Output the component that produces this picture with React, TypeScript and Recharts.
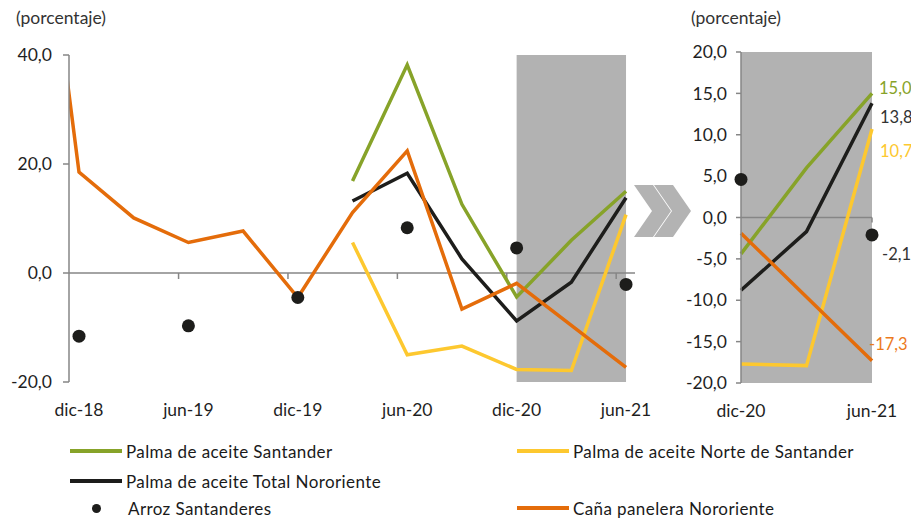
import React from 'react';
import { LineChart, Line, XAxis, YAxis, ReferenceArea, ReferenceLine } from 'recharts';

// ---------- data ----------
const quarters = ['sep-18', 'dic-18', 'mar-19', 'jun-19', 'sep-19', 'dic-19', 'mar-20', 'jun-20', 'sep-20', 'dic-20', 'mar-21', 'jun-21'];
const palmaSantander: (number | null)[] = [null, null, null, null, null, null, 16.9, 38.2, 12.6, -4.4, 6.0, 15.0];
const palmaNorte: (number | null)[] = [null, null, null, null, null, null, 5.6, -15.0, -13.4, -17.7, -17.9, 10.7];
const palmaTotal: (number | null)[] = [null, null, null, null, null, null, 13.2, 18.3, 2.6, -8.8, -1.7, 13.8];
const arrozSantanderes: (number | null)[] = [null, -11.6, null, -9.7, null, -4.5, null, 8.3, null, 4.6, null, -2.1];
const canaPanelera: (number | null)[] = [97, 18.5, 10.1, 5.6, 7.7, -4.5, 11.1, 22.4, -6.6, -1.9, -9.6, -17.3];

const leftTicksX = [0, 2, 4, 6, 8, 10];
const leftTicksY = [-20, 0, 20, 40];
const rightTicksX = [0, 2];
const rightTicksY = [-20, -15, -10, -5, 0, 5, 10, 15, 20];

const FONT = 'Lato, "Open Sans", sans-serif';
const AXIS = '#868686';
const TEXT = '#1f1f1f';
const FS = 17.5;

const series = [
  { key: 'santander', name: 'Palma de aceite Santander', color: '#87a329', values: palmaSantander, lab: { dx: 7, dy: 1, fill: '#87a329' } },
  { key: 'norte', name: 'Palma de aceite Norte de Santander', color: '#fdc82f', values: palmaNorte, lab: { dx: 8, dy: 28, fill: '#fdc82f' } },
  { key: 'total', name: 'Palma de aceite Total Nororiente', color: '#1d1d1b', values: palmaTotal, lab: { dx: 8, dy: 20, fill: '#333333' } },
  { key: 'arroz', name: 'Arroz Santanderes', color: '#1d1d1b', values: arrozSantanderes, lab: { dx: 10, dy: 25, fill: '#333333' }, dots: true },
  { key: 'cana', name: 'Caña panelera Nororiente', color: '#e46c0a', values: canaPanelera, lab: { dx: -3, dy: -11, fill: '#ec7a1c' } },
];

const fmt = (v: number) => v.toFixed(1).replace('.', ',');

const leftData = quarters.map((q, i) => {
  const row: any = { x: i - 1, label: q };
  series.forEach((s) => (row[s.key] = s.values[i]));
  return row;
});
const RIGHT_START = 9;
const rightData = leftData.slice(RIGHT_START).map((r, i) => ({ ...r, x: i }));

const labelFor = (data: any[], x: number) => {
  const r = data.find((d) => d.x === x);
  return r ? r.label : '';
};

const makeXTick = (data: any[]) => (props: any) => {
  const { x, y, payload } = props;
  return (
    <text x={x} y={y + 26} textAnchor="middle" fontSize={FS} fill={TEXT} fontFamily={FONT}>
      {labelFor(data, payload.value)}
    </text>
  );
};

const renderSeries = (withLabels: boolean, lastIndex: number) =>
  series.map((s) => {
    const label = withLabels
      ? (p: any) => {
          if (p.index !== lastIndex || p.value == null) return null;
          return (
            <text
              key={`lab-${s.key}`}
              x={p.x + s.lab.dx}
              y={p.y + s.lab.dy}
              fontSize={16.5}
              fill={s.lab.fill}
              fontFamily={FONT}
              textAnchor="start"
            >
              {fmt(p.value)}
            </text>
          );
        }
      : undefined;
    if (s.dots) {
      return (
        <Line
          key={s.key}
          dataKey={s.key}
          name={s.name}
          stroke="none"
          isAnimationActive={false}
          dot={{ r: 6.5, fill: s.color, stroke: 'none' }}
          activeDot={false}
          label={label as any}
        />
      );
    }
    return (
      <Line
        key={s.key}
        dataKey={s.key}
        name={s.name}
        stroke={s.color}
        strokeWidth={3.5}
        isAnimationActive={false}
        dot={false}
        activeDot={false}
        label={label as any}
      />
    );
  });

const chevron = (x0: number) =>
  `${x0},185 ${x0 + 19},185 ${x0 + 37},211 ${x0 + 19},237 ${x0},237 ${x0 + 18},211`;

const legendItems = [
  { s: series[0], left: 70, top: 451 },
  { s: series[1], left: 517, top: 451 },
  { s: series[2], left: 70, top: 481 },
  { s: series[3], left: 70, top: 508 },
  { s: series[4], left: 517, top: 508 },
];

export default function App() {
  return (
    <div style={{ position: 'absolute', left: 0, top: 0, width: 911, height: 518, background: '#fff', fontFamily: FONT, overflow: 'hidden' }}>
      <div style={{ position: 'absolute', left: 16, top: 6, fontSize: FS, color: '#333', lineHeight: '24px' }}>(porcentaje)</div>
      <div style={{ position: 'absolute', left: 691, top: 6, fontSize: FS, color: '#333', lineHeight: '24px' }}>(porcentaje)</div>

      <div style={{ position: 'absolute', left: 0, top: 0 }}>
        <LineChart width={660} height={420} data={leftData} margin={{ top: 55, right: 25, bottom: 8, left: 8 }}>
          <XAxis
            type="number"
            dataKey="x"
            domain={[-0.183, 10.164]}
            allowDataOverflow
            ticks={leftTicksX}
            interval={0}
            axisLine={false}
            tickLine={false}
            height={30}
            tick={makeXTick(leftData)}
          />
          <YAxis
            type="number"
            domain={[-20, 40]}
            allowDataOverflow
            ticks={leftTicksY}
            width={61}
            tickSize={6}
            tickMargin={11}
            tickFormatter={fmt}
            axisLine={{ stroke: AXIS, strokeWidth: 1.5 }}
            tickLine={{ stroke: AXIS, strokeWidth: 1.5 }}
            tick={{ fontSize: FS, fill: TEXT, fontFamily: FONT }}
          />
          <ReferenceArea x1={8} x2={10} y1={-20} y2={40} fill="#b2b2b2" fillOpacity={1} stroke="none" />
          <ReferenceLine y={0} stroke={AXIS} strokeWidth={1.5} />
          {leftTicksX.slice(1).map((t) => (
            <ReferenceLine
              key={`lt-${t}`}
              segment={[{ x: t - 0.18, y: 0 }, { x: t - 0.18, y: -1.1 }]}
              stroke={AXIS}
              strokeWidth={1.5}
            />
          ))}
          {renderSeries(false, -1)}
        </LineChart>
      </div>

      <svg width={911} height={518} style={{ position: 'absolute', left: 0, top: 0, pointerEvents: 'none' }}>
        <polygon points={chevron(634)} fill="#b3b3b3" />
        <polygon points={chevron(654)} fill="#b3b3b3" />
      </svg>

      <div style={{ position: 'absolute', left: 640, top: 0 }}>
        <LineChart width={300} height={420} data={rightData} margin={{ top: 52, right: 68, bottom: 7, left: 51 }}>
          <XAxis
            type="number"
            dataKey="x"
            domain={[0, 2]}
            ticks={rightTicksX}
            interval={0}
            axisLine={false}
            tickLine={false}
            height={30}
            tick={makeXTick(rightData)}
          />
          <YAxis
            type="number"
            domain={[-20, 20]}
            ticks={rightTicksY}
            width={50}
            tickSize={5}
            tickMargin={9}
            tickFormatter={fmt}
            axisLine={{ stroke: AXIS, strokeWidth: 1.5 }}
            tickLine={{ stroke: AXIS, strokeWidth: 1.5 }}
            tick={{ fontSize: FS, fill: TEXT, fontFamily: FONT }}
          />
          <ReferenceArea x1={0} x2={2} y1={-20} y2={20} fill="#b2b2b2" fillOpacity={1} stroke="none" />
          <ReferenceLine y={0} stroke={AXIS} strokeWidth={1.5} />
          <ReferenceLine segment={[{ x: 2, y: 0 }, { x: 2, y: -0.6 }]} stroke={AXIS} strokeWidth={1.5} />
          {renderSeries(true, rightData.length - 1)}
        </LineChart>
      </div>

      {legendItems.map(({ s, left, top }) => (
        <div key={s.key} style={{ position: 'absolute', left, top: top - 12, height: 24, display: 'flex', alignItems: 'center' }}>
          {s.dots ? (
            <div style={{ width: 52, display: 'flex', justifyContent: 'center' }}>
              <div style={{ width: 9, height: 9, borderRadius: '50%', background: s.color }} />
            </div>
          ) : (
            <div style={{ width: 52, height: 3.5, background: s.color }} />
          )}
          <span style={{ marginLeft: s.dots ? 6 : 4, fontSize: 17, letterSpacing: 0.4, color: '#1a1a1a', whiteSpace: 'nowrap' }}>{s.name}</span>
        </div>
      ))}
    </div>
  );
}
